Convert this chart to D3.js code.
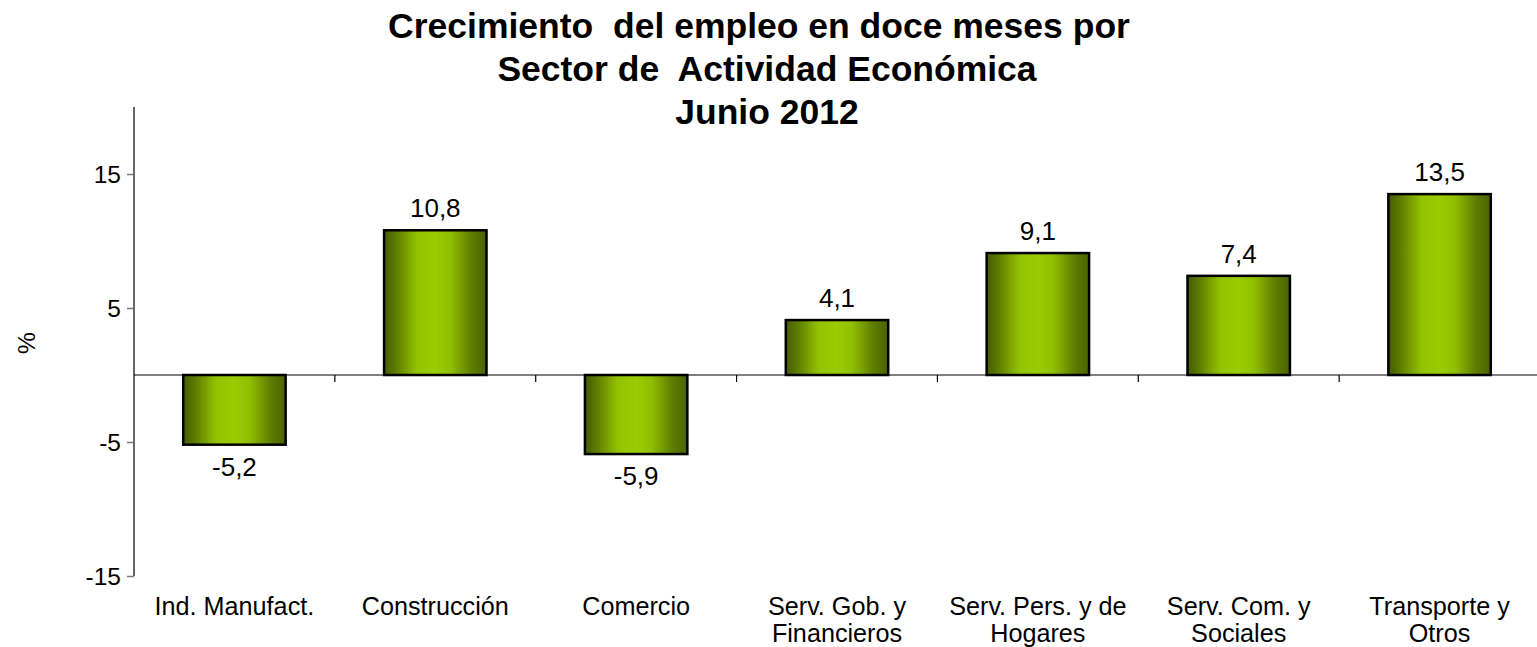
<!DOCTYPE html>
<html><head><meta charset="utf-8">
<script src="https://cdn.jsdelivr.net/npm/d3@7"></script>
<style>
body{margin:0;background:#fff;}
text{font-family:"Liberation Sans",Arial,sans-serif;white-space:pre;}
</style></head>
<body>
<svg id="c" width="1537" height="647"></svg>
<script>
const categories = [["Ind. Manufact."],["Construcción"],["Comercio"],["Serv. Gob. y","Financieros"],["Serv. Pers. y de","Hogares"],["Serv. Com. y","Sociales"],["Transporte y","Otros"]];
const values = [-5.2, 10.8, -5.9, 4.1, 9.1, 7.4, 13.5];
const yTicks = [-15, -5, 5, 15];
const titleLines = ["Crecimiento  del empleo en doce meses por", "Sector de  Actividad Económica", "Junio 2012"];
const yLabel = "%";

(function(){
const svg = d3.select("#c");
const pL = 134, pR = 1540, pT = 107, pB = 576;
const x = d3.scaleBand().domain(d3.range(values.length)).range([pL, pR]).paddingInner(0.49).paddingOuter(0.245);
const xb = d3.scaleBand().domain(d3.range(values.length)).range([pL, pR]);
const y = d3.scaleLinear().domain([-15, 20]).range([pB, pT]);
const fmt = v => d3.format(".1f")(v).replace(".",",").replace("\u2212","-");

const defs = svg.append("defs");
const g = defs.append("linearGradient").attr("id","bg").attr("x1","0").attr("x2","1").attr("y1","0").attr("y2","0");
[[0,"#455c00"],[0.12,"#5e7d00"],[0.32,"#93c300"],[0.5,"#9acc00"],[0.65,"#90bf00"],[0.85,"#5f7e00"],[1,"#4a6200"]].forEach(s=>g.append("stop").attr("offset",s[0]).attr("stop-color",s[1]));

// title
const titleX = [759, 767, 767];
svg.append("text").attr("y",38).attr("text-anchor","middle").attr("font-size",35.5).attr("font-weight","bold")
  .selectAll("tspan").data(titleLines).join("tspan").attr("x",(d,i)=>titleX[i]).attr("dy",(d,i)=>i?43:0).text(d=>d);

// y axis
const yAxis = d3.axisLeft(y).tickValues(yTicks).tickSize(7).tickFormat(d=>String(d));
const ya = svg.append("g").attr("transform",`translate(${pL},0)`).call(yAxis);
ya.select(".domain").attr("stroke","#000").attr("stroke-width",1.2).attr("d",`M0,${pT}V${pB}`);
ya.selectAll(".tick line").attr("stroke","#777").attr("stroke-width",1.5);
ya.selectAll(".tick text").attr("font-size",24.5).attr("fill","#000").attr("x",-13).attr("dy","0.34em").style("font-family","Liberation Sans, Arial, sans-serif");

svg.append("text").attr("transform","translate(35,343) rotate(-90)").attr("text-anchor","middle").attr("font-size",24.5).text(yLabel);

// bars
svg.selectAll("rect.bar").data(values).join("rect").attr("class","bar")
  .attr("x",(d,i)=>x(i)).attr("width",x.bandwidth())
  .attr("y",d=>y(Math.max(0,d))).attr("height",d=>Math.abs(y(d)-y(0)))
  .attr("fill","url(#bg)").attr("stroke","#000").attr("stroke-width",2.5);

// x axis at zero
svg.append("line").attr("x1",pL).attr("x2",1537).attr("y1",y(0)).attr("y2",y(0)).attr("stroke","#000").attr("stroke-width",1.2);
svg.selectAll("line.xt").data(d3.range(1,values.length)).join("line").attr("class","xt")
  .attr("x1",i=>xb(i)).attr("x2",i=>xb(i)).attr("y1",y(0)).attr("y2",y(0)+7).attr("stroke","#000").attr("stroke-width",1.2);

// value labels
svg.selectAll("text.val").data(values).join("text").attr("class","val")
  .attr("x",(d,i)=>x(i)+x.bandwidth()/2).attr("y",d=>d>=0? y(d)-13 : y(d)+31)
  .attr("text-anchor","middle").attr("font-size",26).text(fmt);

// category labels
svg.selectAll("text.cat").data(categories).join("text").attr("class","cat")
  .attr("x",(d,i)=>xb(i)+xb.bandwidth()/2).attr("y",615).attr("text-anchor","middle").attr("font-size",25.2)
  .selectAll("tspan").data(d=>d).join("tspan").attr("x",function(){return this.parentNode.getAttribute("x");}).attr("dy",(d,i)=>i?26.5:0).text(d=>d);
})();
</script>
</body></html>
